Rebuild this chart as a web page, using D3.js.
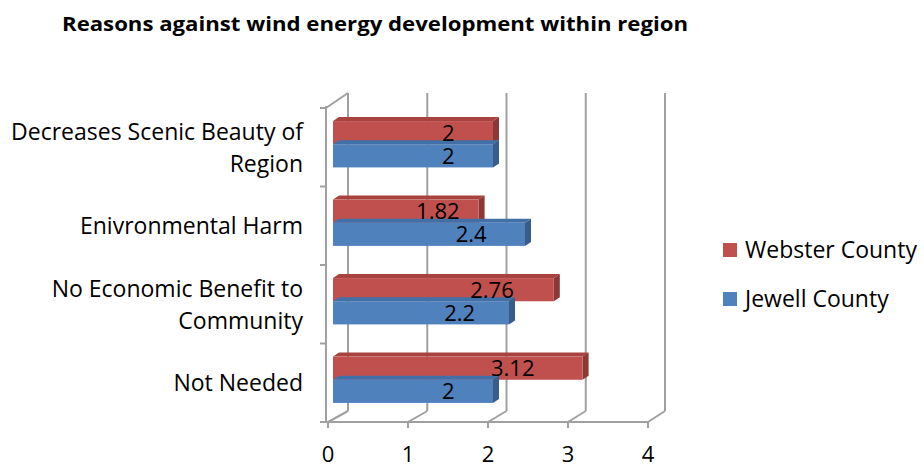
<!DOCTYPE html>
<html>
<head>
<meta charset="utf-8">
<script src="https://cdn.jsdelivr.net/npm/d3@7"></script>
<style>
  html, body { margin: 0; padding: 0; background: #fff; }
  svg { display: block; }
  text { font-family: "Open Sans", Lato, sans-serif; fill: #000; }
</style>
</head>
<body>
<svg id="chart" width="924" height="465"></svg>
<script>
const title = "Reasons against wind energy development within region";
const categories = [
  ["Decreases Scenic Beauty of", "Region"],
  ["Enivronmental Harm"],
  ["No Economic Benefit to", "Community"],
  ["Not Needed"]
];
const seriesNames = ["Webster County", "Jewell County"];
const webster = [2, 1.82, 2.76, 3.12];
const jewell = [2, 2.4, 2.2, 2];
const xTicks = [0, 1, 2, 3, 4];
const colors = {
  "Webster County": { front: "#c0504d", top: "#a8423f", side: "#8c3836" },
  "Jewell County":  { front: "#4f81bd", top: "#4170a8", side: "#385d8a" }
};

const svg = d3.select("#chart");
const catKeys = categories.map(c => c.join(" "));
const seriesData = { "Webster County": webster, "Jewell County": jewell };

// front plane scales
const x = d3.scaleLinear().domain([0, 4]).range([328, 648]);
const xBack = d3.scaleLinear().domain([0, 4]).range([348, 665]);
const y = d3.scaleBand().domain(catKeys).range([108, 422]).paddingInner(0.41).paddingOuter(0.205);
const ySub = d3.scaleBand().domain(seriesNames).range([0, y.bandwidth()]);
const depth = { dx: 20, dy: -11 };      // wall depth
const barOff = { dx: 5, dy: -3 };       // bar front-face offset
const barD = { dx: 6, dy: -4 };         // bar depth

const gridColor = "#a0a0a0";
const floorY = 422, topBack = 93;

// Title
svg.append("text").attr("x", 62).attr("y", 31)
  .attr("font-weight", "bold").attr("font-size", 20)
  .attr("textLength", 626).attr("lengthAdjust", "spacingAndGlyphs").text(title);

// Back wall gridlines
const grid = svg.append("g").attr("stroke", gridColor).attr("stroke-width", 2).attr("fill", "none");
xTicks.forEach(t => {
  grid.append("line").attr("x1", xBack(t)).attr("x2", xBack(t)).attr("y1", topBack).attr("y2", floorY + depth.dy);
  grid.append("line").attr("x1", x(t)).attr("x2", xBack(t)).attr("y1", floorY).attr("y2", floorY + depth.dy);
});
// left wall top edge
grid.append("line").attr("x1", 326).attr("y1", 108).attr("x2", xBack(0)).attr("y2", topBack);
// front axes
grid.append("line").attr("x1", 326).attr("x2", 326).attr("y1", 106).attr("y2", floorY);
grid.append("line").attr("x1", 326).attr("x2", x(4)).attr("y1", floorY).attr("y2", floorY);
// tick marks left axis
const yBounds = [108].concat(catKeys.map(k => y(k) - y.step() * y.paddingInner() / 2 + y.step()));
yBounds.forEach(v => grid.append("line").attr("x1", 320).attr("x2", 326).attr("y1", v).attr("y2", v));
// tick marks bottom axis
xTicks.forEach(t => grid.append("line").attr("x1", x(t)).attr("x2", x(t)).attr("y1", floorY).attr("y2", floorY + 6));

// Bars
const bars = svg.append("g");
catKeys.forEach((k, i) => {
  seriesNames.forEach(s => {
    const v = seriesData[s][i];
    const c = colors[s];
    const x0 = x(0) + barOff.dx, x1 = x(v) + barOff.dx;
    const y0 = y(k) + ySub(s) + barOff.dy, h = ySub.bandwidth();
    bars.append("polygon").attr("fill", c.top)
      .attr("points", [[x0, y0], [x1, y0], [x1 + barD.dx, y0 + barD.dy], [x0 + barD.dx, y0 + barD.dy]].join(" "));
    bars.append("polygon").attr("fill", c.side)
      .attr("points", [[x1, y0], [x1 + barD.dx, y0 + barD.dy], [x1 + barD.dx, y0 + h + barD.dy], [x1, y0 + h]].join(" "));
    bars.append("rect").attr("x", x0).attr("y", y0).attr("width", x1 - x0).attr("height", h).attr("fill", c.front);
  });
});
// value labels (drawn after all bars)
catKeys.forEach((k, i) => {
  seriesNames.forEach(s => {
    const v = seriesData[s][i];
    const x0 = x(0) + barOff.dx, x1 = x(v) + barOff.dx;
    const y0 = y(k) + ySub(s) + barOff.dy, h = ySub.bandwidth();
    bars.append("text").attr("x", x0 + (x1 - x0) * 0.72).attr("y", y0 + h / 2).attr("dy", "0.36em")
      .attr("text-anchor", "middle").attr("font-size", 22).text(v);
  });
});

// Category labels
catKeys.forEach((k, i) => {
  const lines = categories[i];
  const cy = y(k) + y.bandwidth() / 2;
  const lh = 32;
  lines.forEach((ln, j) => {
    svg.append("text").attr("x", 303).attr("y", cy + (j - (lines.length - 1) / 2) * lh).attr("dy", "0.36em")
      .attr("text-anchor", "end").attr("font-size", 23).text(ln);
  });
});

// X tick labels
xTicks.forEach(t => {
  svg.append("text").attr("x", x(t)).attr("y", 454).attr("dy", "0.36em")
    .attr("text-anchor", "middle").attr("font-size", 22).text(t);
});

// Legend
const leg = svg.append("g");
seriesNames.forEach((s, i) => {
  const ly = 250 + i * 49;
  leg.append("rect").attr("x", 723).attr("y", ly - 7).attr("width", 14).attr("height", 14).attr("fill", colors[s].front);
  leg.append("text").attr("x", 745).attr("y", ly).attr("dy", "0.36em").attr("font-size", 23).text(s);
});
</script>
</body>
</html>
